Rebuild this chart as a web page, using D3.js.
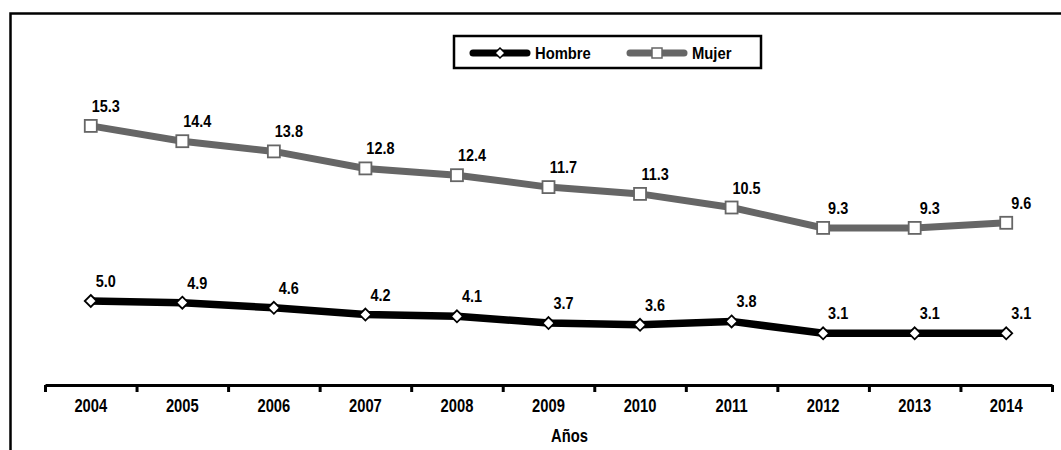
<!DOCTYPE html>
<html>
<head>
<meta charset="utf-8">
<script src="https://cdn.jsdelivr.net/npm/d3@7"></script>
<style>
  body { margin: 0; background: #fff; }
  text { font-family: 'Liberation Sans', Arial, sans-serif; font-weight: bold; fill: #000; }
</style>
</head>
<body>
<svg id="chart" width="1061" height="450"></svg>
<script>
var years = ["2004", "2005", "2006", "2007", "2008", "2009", "2010", "2011", "2012", "2013", "2014"]
var hombre = [5.0, 4.9, 4.6, 4.2, 4.1, 3.7, 3.6, 3.8, 3.1, 3.1, 3.1]
var mujer = [15.3, 14.4, 13.8, 12.8, 12.4, 11.7, 11.3, 10.5, 9.3, 9.3, 9.6]
var seriesNames = ["Hombre", "Mujer"]

var dimensions = {
    width: 1061,
    height: 450,
    margin: { top: 46, bottom: 64, left: 45, right: 9 }
}

var svg = d3.select("#chart")

// outer frame (cut off at right and bottom)
svg.append("path")
    .attr("d", "M10.5,460 L10.5,13.5 L1070,13.5")
    .attr("fill", "none")
    .attr("stroke", "#000")
    .attr("stroke-width", 2.5)

var xScale = d3.scaleBand()
    .domain(years)
    .range([dimensions.margin.left, dimensions.width - dimensions.margin.right])

var xEdges = d3.scaleLinear()
    .domain([0, years.length])
    .range([dimensions.margin.left, dimensions.width - dimensions.margin.right])

var yScale = d3.scaleLinear()
    .domain([0, 20])
    .range([386, dimensions.margin.top])

var axisY = 385

// axis line with ticks between categories
var edgeAxis = svg.append("g")
    .attr("transform", "translate(0," + axisY + ")")
    .call(d3.axisBottom(xEdges).tickValues(d3.range(years.length + 1)).tickFormat("").tickSize(7).tickSizeOuter(0))
edgeAxis.selectAll("path, line")
    .attr("stroke", "#000")
    .attr("stroke-width", 3)

var labelAxis = svg.append("g")
    .attr("transform", "translate(0," + axisY + ")")
    .call(d3.axisBottom(xScale).tickSize(0).tickPadding(14))
labelAxis.select(".domain").remove()
labelAxis.selectAll("text")
    .style("font-size", "18px")
    .style("font-family", null)
    .attr("fill", "#000")
    .attr("transform", "scale(0.82,1)")

svg.append("text")
    .attr("transform", "translate(" + (xScale("2009") + xScale.bandwidth() / 2 + 21) + ",442) scale(0.82,1)")
    .attr("text-anchor", "middle")
    .style("font-size", "18px")
    .text("Años")

var cx = function(d, i) { return xScale(years[i]) + xScale.bandwidth() / 2 }

var lineGen = d3.line()
    .x(cx)
    .y(d => yScale(d))

// Mujer
svg.append("path")
    .datum(mujer)
    .attr("d", lineGen)
    .attr("fill", "none")
    .attr("stroke", "#666666")
    .attr("stroke-width", 7)

svg.append("g")
    .selectAll("rect")
    .data(mujer)
    .enter()
    .append("rect")
    .attr("x", (d, i) => cx(d, i) - 6)
    .attr("y", d => yScale(d) - 6)
    .attr("width", 12)
    .attr("height", 12)
    .attr("fill", "#fff")
    .attr("stroke", "#666666")
    .attr("stroke-width", 1.8)

// Hombre
svg.append("path")
    .datum(hombre)
    .attr("d", lineGen)
    .attr("fill", "none")
    .attr("stroke", "#000")
    .attr("stroke-width", 7.5)

var diamond = "M0,-6 L6,0 L0,6 L-6,0 Z"
svg.append("g")
    .selectAll("path")
    .data(hombre)
    .enter()
    .append("path")
    .attr("d", diamond)
    .attr("transform", (d, i) => "translate(" + cx(d, i) + "," + yScale(d) + ")")
    .attr("fill", "#fff")
    .attr("stroke", "#000")
    .attr("stroke-width", 1.8)

// value labels
;[mujer, hombre].forEach(function(series) {
    svg.append("g")
        .selectAll("text")
        .data(series)
        .enter()
        .append("text")
        .attr("transform", (d, i) => "translate(" + (cx(d, i) + 15) + "," + (yScale(d) - 14) + ") scale(0.85,1)")
        .attr("text-anchor", "middle")
        .style("font-size", "17px")
        .text(d => d.toFixed(1))
})

// legend
var legend = svg.append("g")
legend.append("rect")
    .attr("x", 454)
    .attr("y", 36)
    .attr("width", 307)
    .attr("height", 32)
    .attr("fill", "#fff")
    .attr("stroke", "#000")
    .attr("stroke-width", 2.5)

var legendItems = [
    { name: seriesNames[0], x: 473, color: "#000" },
    { name: seriesNames[1], x: 630, color: "#666666" }
]
legendItems.forEach(function(item, k) {
    legend.append("line")
        .attr("x1", item.x).attr("x2", item.x + 54)
        .attr("y1", 53).attr("y2", 53)
        .attr("stroke", item.color)
        .attr("stroke-width", 7)
        .attr("stroke-linecap", "round")
    if (k == 0) {
        legend.append("path")
            .attr("d", "M0,-5 L5,0 L0,5 L-5,0 Z")
            .attr("transform", "translate(" + (item.x + 27) + ",53)")
            .attr("fill", "#fff").attr("stroke", "#000").attr("stroke-width", 1.5)
    } else {
        legend.append("rect")
            .attr("x", item.x + 22).attr("y", 48)
            .attr("width", 10).attr("height", 10)
            .attr("fill", "#fff").attr("stroke", "#666666").attr("stroke-width", 1.5)
    }
    legend.append("text")
        .attr("transform", "translate(" + (item.x + 62) + ",59) scale(0.87,1)")
        .style("font-size", "17px")
        .text(item.name)
})
</script>
</body>
</html>
